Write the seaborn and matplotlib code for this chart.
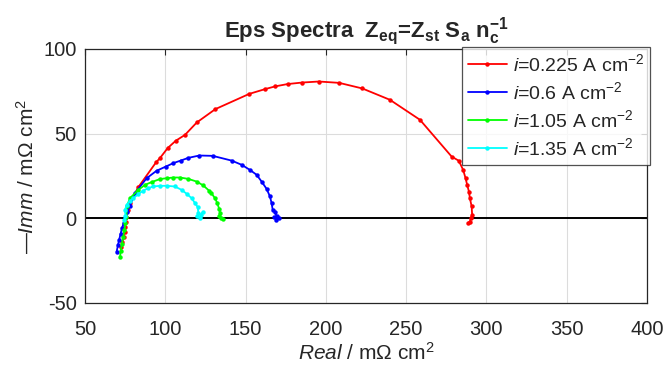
import numpy as np
import pandas as pd
import matplotlib
matplotlib.use("Agg")
import matplotlib.pyplot as plt
import seaborn as sns

# ---- data ----
red_x = [72.5, 73.3, 74.0, 74.6, 75.0, 75.3, 75.6, 76.5, 78.0, 83.2, 94.2, 96.7, 101.5, 106.5, 112.3,
         119.6, 131.2, 152.3, 162.1, 168.3, 176.2, 185.3, 195.7, 208.3, 222.7, 239.9, 258.6,
         278.3, 282.8, 285.5, 287.0, 288.0, 289.1, 289.7, 290.8, 291.1, 290.3, 289.7, 288.6]
red_y = [-17.0, -14.0, -11.0, -8.0, -5.0, -2.0, 1.0, 5.0, 9.0, 18.4, 33.0, 35.6, 41.5, 45.8, 49.3,
         56.6, 64.5, 73.5, 76.3, 77.9, 79.3, 80.2, 80.8, 80.0, 76.7, 70.0, 58.2,
         36.5, 34.0, 28.6, 23.7, 19.8, 15.8, 11.9, 7.0, 2.1, 0.0, -1.9, -2.8]

blue_x = [69.7, 70.5, 71.3, 72.2, 73.0, 74.0, 75.0, 76.3, 78.0, 81.1, 88.4, 94.6, 100.4, 105.0, 109.6,
          114.3, 121.2, 129.5, 141.3, 147.6, 152.7, 156.9, 160.0, 163.1, 165.2, 166.2, 166.9,
          168.3, 169.3, 168.9, 171.0, 168.0]
blue_y = [-19.6, -16.0, -12.5, -9.0, -6.0, -3.0, 0.0, 3.5, 7.5, 14.9, 23.7, 28.1, 30.6, 32.6, 34.1,
          35.7, 37.1, 36.9, 34.1, 31.6, 28.6, 25.7, 21.7, 17.4, 12.9, 9.0, 5.0,
          3.8, 1.1, -0.9, 0.1, 0.5]

green_x = [71.8, 72.3, 73.0, 73.8, 74.5, 75.2, 75.8, 76.0, 78.0, 83.2, 87.4, 91.5, 96.7, 100.9, 105.0,
           109.2, 114.3, 119.6, 123.7, 127.2, 128.5, 130.9, 132.4, 133.6, 134.1, 133.6, 136.1, 134.5]
green_y = [-22.9, -19.0, -15.0, -11.0, -7.0, -3.0, 0.5, 7.0, 11.9, 16.8, 19.8, 21.4, 23.2, 23.7, 24.1,
           24.1, 23.3, 21.7, 19.4, 16.4, 15.2, 11.9, 9.0, 5.4, 3.1, 1.1, -0.5, 0.3]

cyan_x = [74.5, 75.2, 74.9, 76.0, 78.0, 80.1, 83.2, 86.3, 89.4, 92.5, 96.7, 100.9, 106.0, 110.2,
          113.3, 116.4, 118.5, 120.2, 120.6, 122.2, 123.5, 121.6, 119.5]
cyan_y = [-1.0, 1.5, 5.0, 8.0, 10.3, 11.9, 14.3, 16.4, 17.8, 18.8, 19.2, 19.2, 18.8, 16.8,
          14.5, 11.9, 9.0, 6.6, 3.1, 2.1, 3.8, 0.3, 1.1]

labels = [r'$\mathit{i}$=0.225 A cm$^{-2}$', r'$\mathit{i}$=0.6 A cm$^{-2}$',
          r'$\mathit{i}$=1.05 A cm$^{-2}$', r'$\mathit{i}$=1.35 A cm$^{-2}$']
colors = ['#ff0000', '#0000ff', '#00ff00', '#00ffff']
x_ticks = [50, 100, 150, 200, 250, 300, 350, 400]
y_ticks = [-50, 0, 50, 100]

# ---- style ----
sns.set_style("white")
plt.rcParams['font.family'] = ['Liberation Sans', 'DejaVu Sans']
plt.rcParams['mathtext.fontset'] = 'custom'
plt.rcParams['mathtext.rm'] = 'Liberation Sans'
plt.rcParams['mathtext.it'] = 'Liberation Sans:italic'
plt.rcParams['mathtext.bf'] = 'Liberation Sans:bold'
plt.rcParams['axes.unicode_minus'] = False

fig = plt.figure(figsize=(6.67, 3.69), dpi=100)
ax = fig.add_axes([85/667, 1-303/369, (647-85)/667, (303-49)/369])

series = [(red_x, red_y), (blue_x, blue_y), (green_x, green_y), (cyan_x, cyan_y)]
for (xs, ys), lab, col in zip(series, labels, colors):
    df = pd.DataFrame({'x': xs, 'y': ys})
    sns.lineplot(data=df, x='x', y='y', sort=False, estimator=None, ax=ax,
                 color=col, label=lab, marker='o', markersize=3.2,
                 markeredgewidth=0, linewidth=1.3)

ax.axhline(0, color='black', linewidth=1.4, zorder=1)

ax.set_xlim(50, 400)
ax.set_ylim(-50, 100)
ax.set_xticks(x_ticks)
ax.set_yticks(y_ticks)
ax.grid(True, color='#dcdcdc', linewidth=0.8)
ax.set_axisbelow(True)
for s in ax.spines.values():
    s.set_color('#262626')
    s.set_linewidth(0.9)
ax.tick_params(direction='in', length=4, width=0.8, colors='#262626',
               top=True, right=True, labelsize=14.5)
ax.tick_params(axis='x', pad=12)
ax.tick_params(axis='y', pad=6)

ax.set_xlabel(r'$\mathit{Real}$ / m$\Omega$ cm$^2$', fontsize=15, color='#262626', labelpad=2)
ax.set_ylabel(r'—$\mathit{Imm}$ / m$\Omega$ cm$^2$', fontsize=15, color='#262626', labelpad=4)
ax.set_title(r'Eps Spectra  $\mathbf{Z_{eq}}$=$\mathbf{Z_{st}}$ $\mathbf{S_a}$ $\mathbf{n_c^{-1}}$',
             fontsize=16, fontweight='bold', pad=9)

leg = ax.legend(loc='upper right', bbox_to_anchor=(1.005, 1.008), borderaxespad=0,
                fontsize=14, frameon=True, fancybox=False, handlelength=2.0,
                handletextpad=0.3, labelspacing=0.32, borderpad=0.3)
leg.get_frame().set_edgecolor('#262626')
leg.get_frame().set_linewidth(0.9)

fig.savefig('out.png', dpi=100)
